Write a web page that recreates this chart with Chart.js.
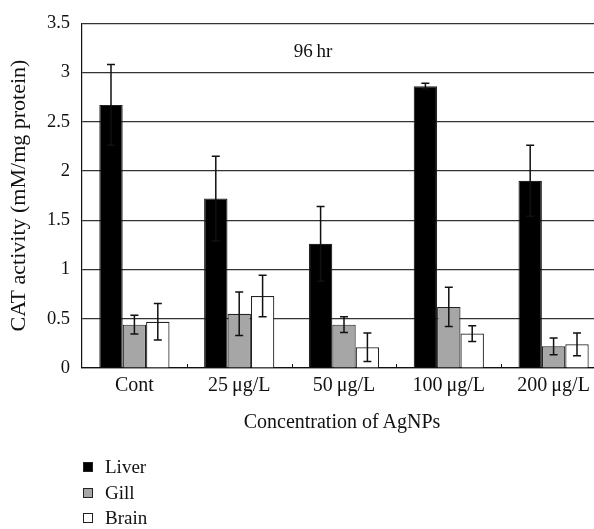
<!DOCTYPE html>
<html>
<head>
<meta charset="utf-8">
<script src="https://cdn.jsdelivr.net/npm/chart.js@4"></script>
<style>
  body { margin: 0; background: #fff; overflow: hidden; }
  #wrap { position: relative; width: 594px; height: 529px; overflow: hidden; }
  #cat { position: absolute; left: 0; top: 0; }
  .txt { position: absolute; font-family: "Liberation Serif", serif; color: #111; white-space: nowrap; }
  #time { font-size: 19px; left: 313px; top: 51px; transform: translate(-50%, -50%); }
  #xtitle { font-size: 20px; left: 342px; top: 421px; transform: translate(-50%, -50%); }
  #legend { position: absolute; left: 83px; top: 454px; font-family: "Liberation Serif", serif; font-size: 19px; color: #111; }
  #legend div { height: 25.7px; line-height: 25.7px; }
  #legend span.box { display: inline-block; width: 8px; height: 8px; border: 1px solid #222; margin-right: 12px; vertical-align: 1px; }
</style>
</head>
<body>
<div id="wrap">
  <canvas id="cat" width="606" height="529"></canvas>
  <div class="txt" id="time">96&#8201;hr</div>
  <div class="txt" id="xtitle">Concentration of AgNPs</div>
  <div id="legend"></div>
</div>
<script>
// CAT activity at 96 hr, means and SD per tissue
const concentrations = ['Cont', '25\u2009\u03BCg/L', '50\u2009\u03BCg/L', '100\u2009\u03BCg/L', '200\u2009\u03BCg/L'];
const liver = [2.67, 1.72, 1.26, 2.86, 1.90];
const liverSd = [0.41, 0.43, 0.38, 0.03, 0.36];
const gill = [0.44, 0.55, 0.44, 0.62, 0.22];
const gillSd = [0.095, 0.22, 0.08, 0.20, 0.085];
const brain = [0.47, 0.73, 0.21, 0.35, 0.24];
const brainSd = [0.185, 0.21, 0.145, 0.08, 0.115];
const yTicks = [0, 0.5, 1, 1.5, 2, 2.5, 3, 3.5];

const serif = '"Liberation Serif", serif';

// whiskers on every bar + the little upward ticks between groups
const errorBars = {
  id: 'errorBars',
  afterDatasetsDraw(chart) {
    const ctx = chart.ctx;
    const y = chart.scales.y;
    ctx.save();
    ctx.strokeStyle = '#111';
    ctx.lineWidth = 1.5;
    chart.data.datasets.forEach((ds, di) => {
      const meta = chart.getDatasetMeta(di);
      meta.data.forEach((bar, i) => {
        const v = ds.data[i], sd = ds.sd[i];
        const top = y.getPixelForValue(v + sd);
        const bot = y.getPixelForValue(v - sd);
        const cap = 4;
        ctx.beginPath();
        ctx.moveTo(bar.x, top); ctx.lineTo(bar.x, bot);
        ctx.moveTo(bar.x - cap, top); ctx.lineTo(bar.x + cap, top);
        ctx.moveTo(bar.x - cap, bot); ctx.lineTo(bar.x + cap, bot);
        ctx.stroke();
      });
    });
    const x = chart.scales.x;
    const base = chart.chartArea.bottom;
    ctx.lineWidth = 1;
    for (let i = 1; i < concentrations.length; i++) {
      const xm = Math.round((x.getPixelForValue(i - 1) + x.getPixelForValue(i)) / 2) + 0.5;
      ctx.beginPath();
      ctx.moveTo(xm, base); ctx.lineTo(xm, base - 4);
      ctx.stroke();
    }
    ctx.restore();
  }
};

const chart = new Chart(document.getElementById('cat'), {
  type: 'bar',
  data: {
    labels: concentrations,
    datasets: [
      { label: 'Liver', data: liver, sd: liverSd, backgroundColor: '#000000' },
      { label: 'Gill', data: gill, sd: gillSd, backgroundColor: '#a6a6a6' },
      { label: 'Brain', data: brain, sd: brainSd, backgroundColor: '#ffffff' }
    ]
  },
  options: {
    responsive: false,
    animation: false,
    layout: { padding: { top: 20, left: 0, right: 0, bottom: 0 } },
    datasets: {
      bar: {
        borderColor: '#222',
        borderWidth: 1.2,
        categoryPercentage: 0.67,
        barPercentage: 1.0
      }
    },
    plugins: {
      legend: { display: false },
      tooltip: { enabled: false }
    },
    scales: {
      x: {
        afterFit(s) { s.height = 529 - 368; },
        grid: { display: false, drawTicks: false },
        border: { display: true, color: '#111', width: 1.2 },
        ticks: { color: '#111', padding: 6, font: { family: serif, size: 20 } }
      },
      y: {
        min: 0,
        max: 3.5,
        afterFit(s) { s.width = 82; },
        afterBuildTicks(s) { s.ticks = yTicks.map(v => ({ value: v })); },
        grid: { color: '#333', lineWidth: 1.2, drawTicks: false },
        border: { display: true, color: '#111', width: 1.2 },
        ticks: {
          color: '#111',
          padding: 12,
          font: { family: serif, size: 18.5 },
          callback: v => String(v)
        },
        title: {
          display: true,
          text: 'CAT activity (mM/mg protein)',
          color: '#111',
          padding: { top: 6, bottom: 0 },
          font: { family: serif, size: 22 }
        }
      }
    }
  },
  plugins: [errorBars]
});

// legend list under the axis title
const legendBox = document.getElementById('legend');
chart.data.datasets.forEach(ds => {
  const row = document.createElement('div');
  row.innerHTML = '<span class="box" style="background:' + ds.backgroundColor + '"></span>' + ds.label;
  legendBox.appendChild(row);
});
</script>
</body>
</html>
